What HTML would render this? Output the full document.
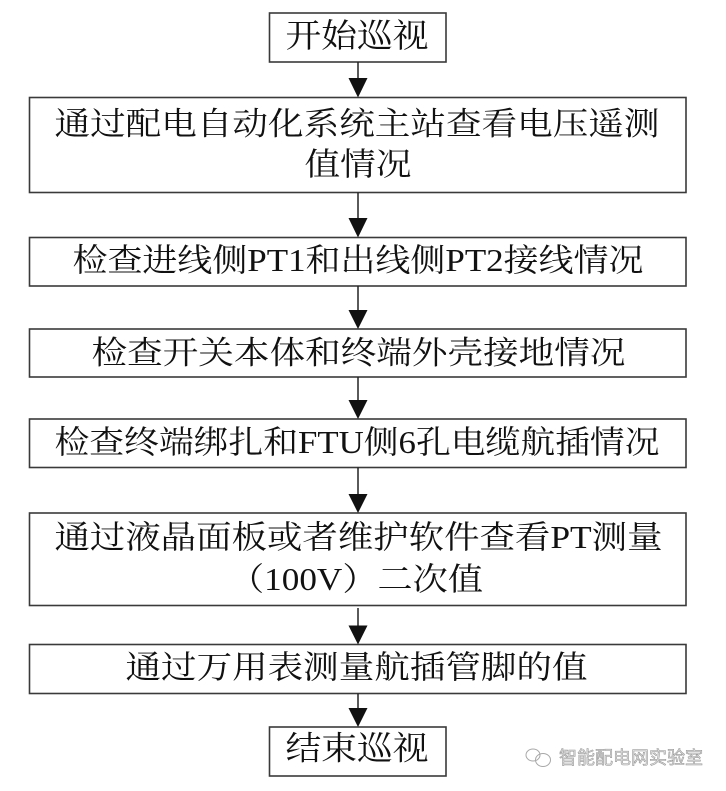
<!DOCTYPE html>
<html>
<head>
<meta charset="utf-8">
<style>
  html, body { margin:0; padding:0; background:#fff; }
  svg { display:block; }
  .t { font-family: "Liberation Serif", "Noto Serif CJK SC", serif; font-size:32px; fill:#111; }
  .b { fill:#fff; stroke:#3a3a3a; stroke-width:1.6; }
  .l { stroke:#222; stroke-width:1.5; }
  .h { fill:#111; }
  .w { font-family: "Liberation Sans", "Noto Sans CJK SC", sans-serif; font-size:18px; fill:#e6e6e6; stroke:#9a9a9a; stroke-width:0.6; }
</style>
</head>
<body>
<svg width="726" height="791" viewBox="0 0 726 791" xmlns="http://www.w3.org/2000/svg">
  <!-- boxes -->
  <rect class="b" x="269.5" y="13" width="176.5" height="49"/>
  <rect class="b" x="29.5" y="97.5" width="656.5" height="95"/>
  <rect class="b" x="29.5" y="237.5" width="656.5" height="48.5"/>
  <rect class="b" x="29.5" y="329" width="656.5" height="48"/>
  <rect class="b" x="29.5" y="419" width="656.5" height="48.5"/>
  <rect class="b" x="29.5" y="513" width="656.5" height="92.5"/>
  <rect class="b" x="29.5" y="644.5" width="656.5" height="49"/>
  <rect class="b" x="269.5" y="727" width="176.5" height="49"/>

  <!-- connectors -->
  <line class="l" x1="358" y1="62" x2="358" y2="80"/>
  <polygon class="h" points="348.5,78 367.5,78 358,97.5"/>
  <line class="l" x1="358" y1="192.5" x2="358" y2="220"/>
  <polygon class="h" points="348.5,218 367.5,218 358,237.5"/>
  <line class="l" x1="358" y1="286" x2="358" y2="312"/>
  <polygon class="h" points="348.5,310 367.5,310 358,329"/>
  <line class="l" x1="358" y1="377" x2="358" y2="402"/>
  <polygon class="h" points="348.5,400 367.5,400 358,419"/>
  <line class="l" x1="358" y1="467.5" x2="358" y2="496"/>
  <polygon class="h" points="348.5,494 367.5,494 358,513"/>
  <line class="l" x1="358" y1="608" x2="358" y2="627"/>
  <polygon class="h" points="348.5,625.5 367.5,625.5 358,644.5"/>
  <line class="l" x1="358" y1="693.5" x2="358" y2="710"/>
  <polygon class="h" points="348.5,708 367.5,708 358,727"/>

  <!-- labels -->
  <text class="t" x="357" y="37" text-anchor="middle" dominant-baseline="central" textLength="143" lengthAdjust="spacingAndGlyphs" style="font-size:33px">开始巡视</text>
  <text class="t" x="357" y="123.5" text-anchor="middle" dominant-baseline="central" textLength="605" lengthAdjust="spacingAndGlyphs">通过配电自动化系统主站查看电压遥测</text>
  <text class="t" x="358" y="164" text-anchor="middle" dominant-baseline="central" textLength="107" lengthAdjust="spacingAndGlyphs">值情况</text>
  <text class="t" x="358" y="260" text-anchor="middle" dominant-baseline="central" textLength="571" lengthAdjust="spacingAndGlyphs">检查进线侧PT1和出线侧PT2接线情况</text>
  <text class="t" x="358.5" y="352.5" text-anchor="middle" dominant-baseline="central" textLength="534" lengthAdjust="spacingAndGlyphs">检查开关本体和终端外壳接地情况</text>
  <text class="t" x="357" y="442" text-anchor="middle" dominant-baseline="central" textLength="605" lengthAdjust="spacingAndGlyphs">检查终端绑扎和FTU侧6孔电缆航插情况</text>
  <text class="t" x="358.5" y="537" text-anchor="middle" dominant-baseline="central" textLength="608" lengthAdjust="spacingAndGlyphs">通过液晶面板或者维护软件查看PT测量</text>
  <text class="t" x="356" y="579" text-anchor="middle" dominant-baseline="central" textLength="254" lengthAdjust="spacingAndGlyphs">（100V）二次值</text>
  <text class="t" x="356.5" y="667" text-anchor="middle" dominant-baseline="central" textLength="462" lengthAdjust="spacingAndGlyphs">通过万用表测量航插管脚的值</text>
  <text class="t" x="357" y="749.5" text-anchor="middle" dominant-baseline="central" textLength="143" lengthAdjust="spacingAndGlyphs" style="font-size:33px">结束巡视</text>

  <!-- watermark -->
  <g fill="none" stroke="#a8a8a8" stroke-width="1">
    <ellipse cx="533" cy="755" rx="7" ry="6"/>
    <ellipse cx="543" cy="760" rx="7.5" ry="6.5"/>
  </g>
  <text class="w" x="559" y="758" dominant-baseline="central" textLength="144" lengthAdjust="spacingAndGlyphs">智能配电网实验室</text>
</svg>
</body>
</html>
